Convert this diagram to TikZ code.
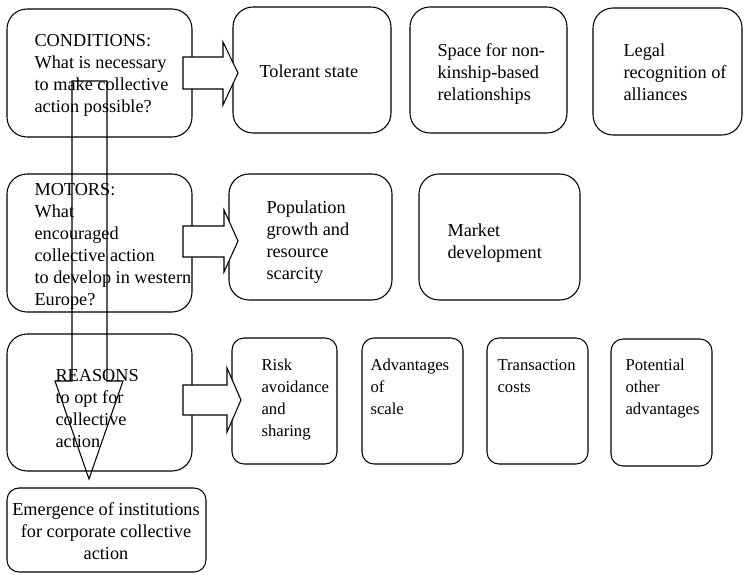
\documentclass[tikz,border=0pt]{standalone}
\usepackage{fontspec}
\setmainfont{Liberation Serif}
\usetikzlibrary{fit}
\begin{document}
\begin{tikzpicture}[x=0.75pt,y=-0.75pt,
  line width=0.8pt,
  bigbox/.style={draw, rounded corners=15pt, inner sep=0pt, fit={#1}},
  smallbox/.style={draw, rounded corners=9pt, inner sep=0pt, fit={#1}},
  txt/.style={anchor=base west, inner sep=0pt, text width=200pt, align=flush left,
    font=\fontsize{13.7}{16.5}\selectfont},
  stxt/.style={anchor=base west, inner sep=0pt, text width=100pt, align=flush left,
    font=\fontsize{12.5}{16.5}\selectfont},
  fatarrow/.style={draw, fill=white, line join=miter}
]
\useasboundingbox (0,0) rectangle (755,574);

% left column boxes
\node[bigbox={(7,9) (192,137)}] (cond) {};
\node[bigbox={(7,174) (192,312)}] (mot) {};
\node[bigbox={(7,334) (192,471)}] (reas) {};
\node[smallbox={(7,488) (206,572)}] (emerg) {};

% row 1
\node[bigbox={(233,7) (391,133)}] (tol) {};
\node[bigbox={(410,7) (567,133)}] (space) {};
\node[bigbox={(593,8) (742,135)}] (legal) {};

% row 2
\node[bigbox={(229,174) (392,300)}] (pop) {};
\node[bigbox={(419,174) (580,300)}] (market) {};

% row 3
\node[smallbox={(232,338) (337,464)}] (risk) {};
\node[smallbox={(362,338) (463,464)}] (adv) {};
\node[smallbox={(487,338) (588,464)}] (trans) {};
\node[smallbox={(611,339) (712,466)}] (pot) {};

% fat arrows
\draw[fatarrow] (183,57) -- (223,57) -- (223,42) -- (238,73) -- (223,105) -- (223,89) -- (183,89) -- cycle;
\draw[fatarrow] (183,226) -- (224,226) -- (224,210) -- (238,241) -- (224,272) -- (224,257) -- (183,257) -- cycle;
\draw[fatarrow] (183,385) -- (227,385) -- (227,368) -- (241,400) -- (227,432) -- (227,415) -- (183,415) -- cycle;

% texts
\node[txt] (tcond) at (34,47) {CONDITIONS:\\What is necessary\\to make collective\\action possible?};
\node[txt] (tmot) at (34,195) {MOTORS:\\What\\encouraged\\collective action\\to develop in western\\Europe?};
\node[txt] (treas) at (55,381) {REASONS\\to opt for\\collective\\action};
\node[anchor=base, inner sep=0pt, text width=200pt, align=flush center,
  font=\fontsize{13.7}{16.5}\selectfont] (temerg) at (106,515)
  {Emergence of institutions\\for corporate collective\\action};

\node[txt] (ttol) at (259,78) {Tolerant state};
\node[txt] (tspace) at (437,57) {Space for non-\\kinship-based\\relationships};
\node[txt] (tlegal) at (623,57) {Legal\\recognition of\\alliances};

\node[txt] (tpop) at (266,213) {Population\\growth and\\resource\\scarcity};
\node[txt] (tmarket) at (447,236) {Market\\development};

\node[stxt] (trisk) at (261,370) {Risk\\avoidance\\and\\sharing};
\node[stxt] (tadv) at (370,370) {Advantages\\of\\scale};
\node[stxt] (ttrans) at (497,370) {Transaction\\costs};
\node[stxt] (tpot) at (625,370) {Potential\\other\\advantages};

% down arrow (outline only)
\draw[line join=miter] (72,81) -- (107,81) -- (107,381) -- (123,381) -- (89,479) -- (55,381) -- (72,381) -- cycle;
\end{tikzpicture}
\end{document}
